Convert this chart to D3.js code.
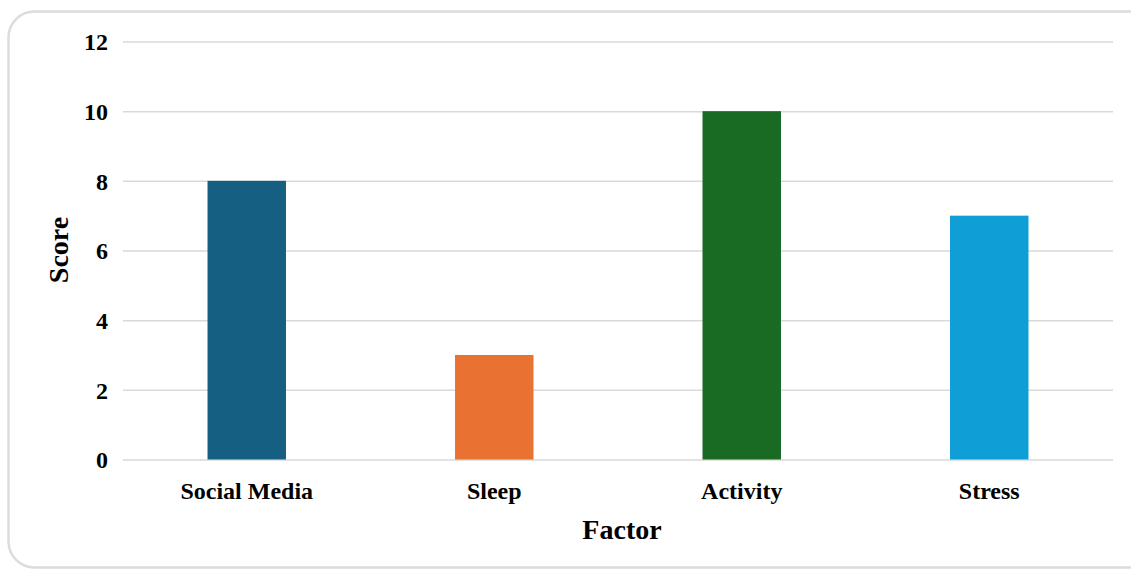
<!DOCTYPE html>
<html>
<head>
<meta charset="utf-8">
<script src="https://cdn.jsdelivr.net/npm/d3@7"></script>
<style>
  html, body { margin: 0; padding: 0; background: #fff; }
  svg { display: block; }
  text { font-family: "Liberation Serif", "Times New Roman", serif; font-weight: bold; fill: #000; }
</style>
</head>
<body>
<svg id="chart" width="1131" height="572"></svg>
<script>
// Chart data
const categories = ["Social Media", "Sleep", "Activity", "Stress"];
const scores = [8, 3, 10, 7];
const barColors = ["#156082", "#E97132", "#196B24", "#0F9ED5"];
const yTicks = [0, 2, 4, 6, 8, 10, 12];

const svg = d3.select("#chart");
const W = 1131, H = 572;
const margin = { left: 123, right: 18, top: 41.5, bottom: 112.5 };

// Rounded frame around the chart area
svg.append("rect")
  .attr("x", 8.5).attr("y", 11.5)
  .attr("width", 1150).attr("height", 556)
  .attr("rx", 26).attr("ry", 26)
  .attr("fill", "#fff")
  .attr("stroke", "#dcdcdc")
  .attr("stroke-width", 2.5);

const x = d3.scaleBand()
  .domain(categories)
  .range([margin.left, W - margin.right])
  .paddingInner(0.683)
  .paddingOuter(0.3415);

const y = d3.scaleLinear()
  .domain([0, 12])
  .range([H - margin.bottom, margin.top]);

// Horizontal gridlines with tick labels
const yAxis = d3.axisLeft(y)
  .tickValues(yTicks)
  .tickSize(-(W - margin.right - margin.left))
  .tickPadding(15)
  .tickFormat(d3.format("d"));

const gy = svg.append("g")
  .attr("transform", `translate(${margin.left},0)`)
  .call(yAxis);
gy.select(".domain").remove();
gy.selectAll(".tick line")
  .attr("stroke", "#d9d9d9")
  .attr("stroke-width", 1.5);
gy.selectAll(".tick text")
  .style("font-size", "24px")
  .style("font-family", "'Liberation Serif', serif")
  .style("font-weight", "bold")
  .attr("fill", "#000")
  .attr("dy", "0.34em");

// Bars
svg.append("g")
  .selectAll("rect")
  .data(categories)
  .join("rect")
  .attr("x", d => x(d))
  .attr("width", x.bandwidth())
  .attr("y", (d, i) => y(scores[i]))
  .attr("height", (d, i) => y(0) - y(scores[i]))
  .attr("fill", (d, i) => barColors[i]);

// Category labels
const xAxis = d3.axisBottom(x).tickSize(0).tickPadding(22);
const gx = svg.append("g")
  .attr("transform", `translate(0,${y(0)})`)
  .call(xAxis);
gx.select(".domain").remove();
gx.selectAll(".tick text")
  .style("font-size", "24px")
  .style("font-family", "'Liberation Serif', serif")
  .style("font-weight", "bold")
  .attr("fill", "#000");

// Axis titles
svg.append("text")
  .attr("x", (margin.left + W - margin.right) / 2 + 4)
  .attr("y", 539)
  .attr("text-anchor", "middle")
  .style("font-size", "28px")
  .text("Factor");

svg.append("text")
  .attr("transform", "translate(68,250) rotate(-90)")
  .attr("text-anchor", "middle")
  .style("font-size", "28px")
  .text("Score");
</script>
</body>
</html>
